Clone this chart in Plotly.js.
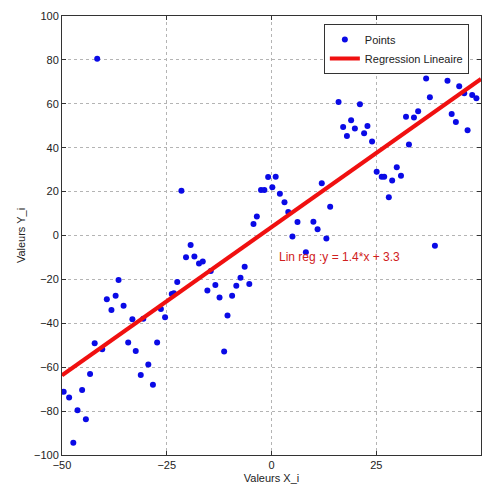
<!DOCTYPE html>
<html>
<head>
<meta charset="utf-8">
<script src="https://cdn.plot.ly/plotly-3.0.1.min.js"></script>
<style>html,body{margin:0;padding:0;background:#fff;}#chart{width:485px;height:498px;}</style>
</head>
<body>
<div id="chart"></div>
<script>
// Scatter points (Valeurs X_i, Valeurs Y_i)
const pointsX = [
  -41.6, -21.5, -19.3, -20.4, -18.4, -17.3, -16.4, -14.5, -22.5, -23.8,
  -23.3, -26.4, -25.4, -15.3, -13.4, -12.4, -9.4, -8.4, -7.4, -6.4,
  -5.3, -10.5, -11.3, -36.5, -37.2, -39.3, -38.2, -35.3, -33.2, -30.6,
  -34.2, -32.4, -27.3, -29.4, -31.2, -28.3, -42.2, -40.4, -43.3, -45.2,
  -49.6, -48.3, -46.3, -44.3, -47.3,
  36.9, 42.0, 44.8, 37.8, 46.0, 47.9, 48.9, 43.0, 44.0, 46.8,
  32.1, 34.0, 35.0, 32.8, 16.0, 21.1, 17.1, 19.0, 19.9, 18.0,
  22.9, 22.1, 24.0, 25.1, 26.3, 26.9, 29.9, 30.9, 28.8, 28.0,
  -0.8, 1.0, -2.5, -1.7, 0.2, 2.0, 3.1, 4.0, 12.0, 14.0,
  6.2, 10.0, 11.0, 5.0, 13.1, -3.5, -4.3, 8.2, 39.0
];
const pointsY = [
  80.5, 20.4, -4.3, -9.9, -9.6, -12.7, -11.9, -16.2, -21.2, -26.7,
  -26.3, -33.5, -37.3, -25.1, -22.6, -28.2, -27.4, -22.9, -19.3, -14.2,
  -22.1, -36.5, -52.9, -20.3, -27.4, -29.1, -33.9, -32.0, -38.2, -37.9,
  -48.8, -52.6, -48.8, -58.8, -63.6, -68.0, -49.1, -51.8, -63.1, -70.4,
  -71.2, -73.8, -79.6, -83.7, -94.4,
  71.5, 70.5, 68.0, 63.0, 64.8, 64.0, 62.5, 55.4, 51.7, 47.9,
  54.1, 53.8, 56.6, 41.5, 60.8, 59.8, 49.4, 52.5, 48.7, 45.3,
  49.9, 46.6, 42.8, 29.1, 26.8, 26.8, 31.1, 27.2, 25.0, 17.4,
  26.6, 26.8, 20.7, 20.7, 22.0, 19.0, 15.1, 10.7, 23.8, 13.1,
  6.2, 6.3, 2.8, -0.4, -1.4, 8.6, 5.2, -7.6, -4.7
];
// Regression line end points
const regX = [-50, 50];
const regY = [-63.7, 71.3];
// Axis ticks
const xTicks = [-50, -25, 0, 25, 50];
const yTicks = [-100, -80, -60, -40, -20, 0, 20, 40, 60, 80, 100];
const annotText = "Lin reg :y = 1.4*x + 3.3";

const font = "Liberation Sans Narrow, Arial Narrow, Liberation Sans, Arial, sans-serif";

const traces = [
  {
    x: pointsX, y: pointsY, type: "scatter", mode: "markers", name: "Points",
    marker: {color: "#0a0ae6", size: 6}
  },
  {
    x: regX, y: regY, type: "scatter", mode: "lines", name: "Regression Lineaire",
    line: {color: "#f01010", width: 4}
  }
];

const axisCommon = {
  showline: true, mirror: "ticks", linecolor: "#333", linewidth: 1,
  ticks: "inside", ticklen: 4, tickcolor: "#333",
  showgrid: true, gridcolor: "#b4b4b4", griddash: "dot", gridwidth: 1,
  zeroline: false, tickfont: {family: font, size: 11, color: "#222"}
};

const layout = {
  width: 485, height: 498,
  margin: {l: 62, r: 4, t: 16, b: 43},
  paper_bgcolor: "#fff", plot_bgcolor: "#fff",
  showlegend: true,
  legend: {
    x: 0.971, y: 0.982, xanchor: "right", yanchor: "top",
    bgcolor: "#fff", bordercolor: "#333", borderwidth: 1,
    font: {family: font, size: 11, color: "#222"},
    tracegroupgap: 0
  },
  xaxis: Object.assign({}, axisCommon, {
    range: [-50, 50], tickvals: xTicks,
    title: {text: "Valeurs X_i", font: {family: font, size: 11, color: "#222"}, standoff: 4}
  }),
  yaxis: Object.assign({}, axisCommon, {
    range: [-100, 100], tickvals: yTicks,
    title: {text: "Valeurs Y_i", font: {family: font, size: 11, color: "#222"}, standoff: 6}
  }),
  annotations: [{
    x: 1.3, y: -9.8, xref: "x", yref: "y", xanchor: "left", yanchor: "middle",
    text: annotText, showarrow: false,
    font: {family: font, size: 12, color: "#d02020"}
  }]
};

Plotly.newPlot("chart", traces, layout, {displayModeBar: false, staticPlot: true});
</script>
</body>
</html>
